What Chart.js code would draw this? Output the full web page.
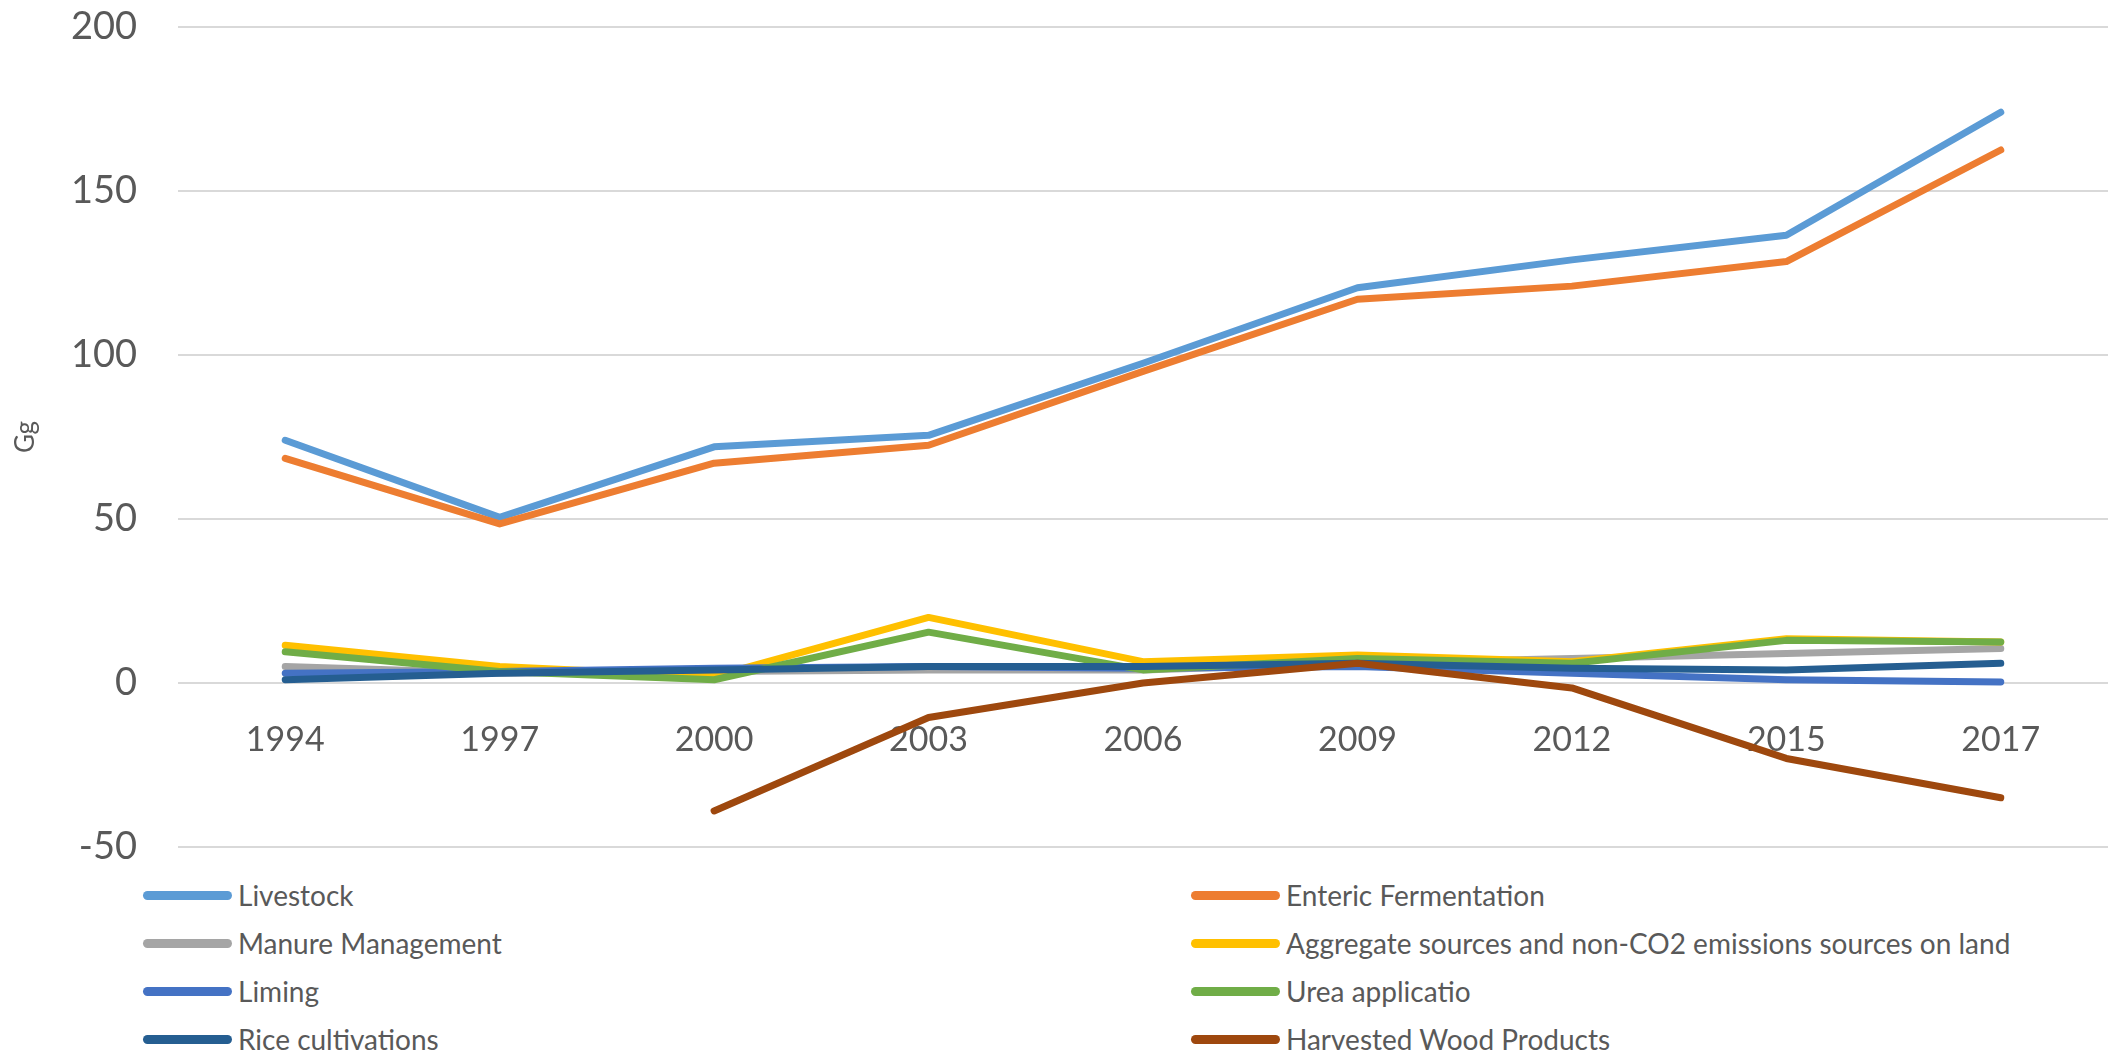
<!DOCTYPE html>
<html>
<head>
<meta charset="utf-8">
<script src="https://cdn.jsdelivr.net/npm/chart.js@4.4.1/dist/chart.umd.min.js"></script>
<style>
  html, body { margin: 0; padding: 0; background: #ffffff; }
  #wrap { position: relative; width: 2117px; height: 1055px; overflow: hidden; }
  #chart { position: absolute; left: 0; top: 0; }
  #legend {
    position: absolute;
    left: 143px;
    top: 871px;
    display: grid;
    grid-template-columns: 1048px auto;
    grid-auto-rows: 48px;
    font-family: Lato, "Open Sans", sans-serif;
    font-size: 28px;
    color: #595959;
  }
  .item { display: flex; align-items: center; white-space: nowrap; }
  .swatch { width: 89px; height: 9px; border-radius: 5px; margin-right: 6px; }
</style>
</head>
<body>
<div id="wrap">
  <canvas id="chart" width="2117" height="870"></canvas>
  <div id="legend"></div>
</div>
<script>
// Categories (x axis)
const years = ["1994", "1997", "2000", "2003", "2006", "2009", "2012", "2015", "2017"]

// Series values (Gg)
const livestock = [74, 50.5, 72, 75.5, 97.5, 120.5, 129, 136.5, 174]
const enteric = [68.5, 48.5, 67, 72.5, 95, 117, 121, 128.5, 162.5]
const manure = [5, 3, 3.5, 4, 4, 6, 7.5, 9, 10.5]
const aggregate = [11.5, 5, 2, 20, 6.5, 8.5, 6.5, 13.5, 12.5]
const liming = [3, 3.5, 4.5, 5, 4.5, 5, 3, 1, 0.3]
const urea = [9.5, 3.5, 1, 15.5, 4, 7.5, 6, 13, 12.5]
const rice = [1, 3, 4, 5, 5, 6, 4.5, 4, 6]
const harvestedWood = [null, null, -39, -10.5, 0, 6, -1.5, -23, -35]

// Y axis ticks
const yMin = -50
const yMax = 200
const yStep = 50

const series = [
  { label: "Livestock", data: livestock, color: "#5B9BD5" },
  { label: "Enteric Fermentation", data: enteric, color: "#ED7D31" },
  { label: "Manure Management", data: manure, color: "#A5A5A5" },
  { label: "Aggregate sources and non-CO2 emissions sources on land", data: aggregate, color: "#FFC000" },
  { label: "Liming", data: liming, color: "#4472C4" },
  { label: "Urea applicatio", data: urea, color: "#70AD47" },
  { label: "Rice cultivations", data: rice, color: "#255E91" },
  { label: "Harvested Wood Products", data: harvestedWood, color: "#9E480E" },
]

const textColor = "#595959"
const fontFamily = "Lato, 'Open Sans', sans-serif"

const ctx = document.getElementById("chart").getContext("2d")
const chart = new Chart(ctx, {
  type: "line",
  data: {
    labels: years,
    datasets: series.map((s, i) => ({
      label: s.label,
      data: s.data,
      borderColor: s.color,
      backgroundColor: s.color,
      borderWidth: 7,
      pointRadius: 0,
      borderJoinStyle: "round",
      borderCapStyle: "round",
      tension: 0,
      spanGaps: false,
      // later series are painted on top, like the original
      order: series.length - i,
    })),
  },
  options: {
    responsive: false,
    animation: false,
    devicePixelRatio: 1,
    layout: {
      padding: { left: 0, right: 9, top: 27, bottom: 23 },
    },
    scales: {
      x: {
        type: "category",
        offset: true,
        // category labels sit under the zero line, as in Excel
        position: { y: 0 },
        afterFit: (scale) => {
          scale.height = 0
        },
        grid: { display: false },
        border: { display: false },
        ticks: {
          color: textColor,
          font: { family: fontFamily, size: 34 },
          padding: 29,
          maxRotation: 0,
          autoSkip: false,
        },
      },
      y: {
        min: yMin,
        max: yMax,
        afterFit: (scale) => {
          scale.width = 178
          // tick padding would otherwise be added above and below the plot
          scale.paddingTop = 0
          scale.paddingBottom = 0
        },
        grid: {
          color: "#d9d9d9",
          lineWidth: 2,
          drawTicks: false,
        },
        border: { display: false },
        ticks: {
          stepSize: yStep,
          color: textColor,
          font: { family: fontFamily, size: 38 },
          padding: 41,
        },
        title: {
          display: true,
          text: "Gg",
          color: textColor,
          font: { family: fontFamily, size: 26 },
          padding: { top: 10, bottom: 0 },
        },
      },
    },
    plugins: {
      legend: { display: false },
      tooltip: { enabled: false },
    },
  },
})

// Two-column legend built from the chart's datasets
const legendEl = document.getElementById("legend")
chart.data.datasets.forEach((ds) => {
  const item = document.createElement("div")
  item.className = "item"
  const swatch = document.createElement("span")
  swatch.className = "swatch"
  swatch.style.background = ds.borderColor
  const text = document.createElement("span")
  text.textContent = ds.label
  item.appendChild(swatch)
  item.appendChild(text)
  legendEl.appendChild(item)
})
</script>
</body>
</html>
